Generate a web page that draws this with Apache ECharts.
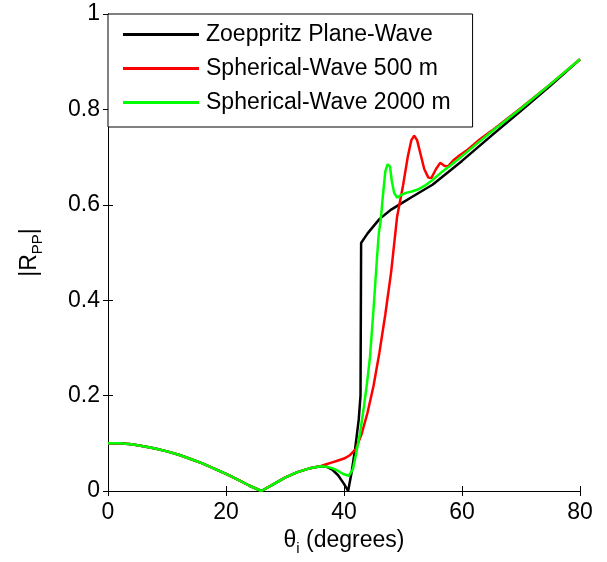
<!DOCTYPE html>
<html>
<head>
<meta charset="utf-8">
<script src="https://cdn.jsdelivr.net/npm/echarts@6/dist/echarts.min.js"></script>
<style>
html, body { margin: 0; padding: 0; background: #fff; }
#chart { width: 607px; height: 562px; }
</style>
</head>
<body>
<div id="chart"></div>
<script>
// 各曲线数据 (入射角 / |Rpp|)
var xCommon = [0, 2, 4, 6, 8, 10, 12, 14, 16, 18, 20, 22, 24, 26, 28, 30, 32, 34, 36];
var yCommon = [0.100, 0.100, 0.098, 0.094, 0.089, 0.083, 0.076, 0.067, 0.058, 0.047, 0.036, 0.024, 0.011, 0.000, 0.014, 0.028, 0.039, 0.047, 0.052];

var xBlack = [37, 38, 39, 40, 40.7, 41.3, 41.9, 42.5, 42.8, 42.9, 44, 46, 48, 50, 52, 55, 60, 65, 70, 75, 80];
var yBlack = [0.051, 0.045, 0.033, 0.015, 0.000, 0.040, 0.090, 0.150, 0.200, 0.520, 0.540, 0.570, 0.590, 0.605, 0.620, 0.642, 0.692, 0.745, 0.797, 0.850, 0.905];

var xRed = [37, 38, 39, 40, 41, 42, 43, 44, 45, 46, 47, 48, 49, 50, 50.8, 51.4, 51.9, 52.4, 53, 53.6, 54.3, 54.8, 55.6, 56.3, 57, 57.6, 58.5, 59.5, 61, 63, 65, 70, 75, 80];
var yRed = [0.056, 0.060, 0.064, 0.068, 0.075, 0.088, 0.120, 0.165, 0.220, 0.290, 0.370, 0.460, 0.575, 0.640, 0.700, 0.735, 0.745, 0.735, 0.705, 0.675, 0.657, 0.656, 0.675, 0.688, 0.682, 0.680, 0.693, 0.703, 0.716, 0.737, 0.755, 0.803, 0.853, 0.905];

var xGreen = [37, 38, 39, 40, 40.8, 41.5, 42, 42.7, 43.3, 43.9, 44.4, 44.7, 45, 45.3, 45.6, 45.9, 46.2, 46.6, 47.0, 47.4, 47.8, 48.1, 48.5, 49, 49.6, 50.5, 51.5, 52.5, 53.7, 55, 56.5, 58, 60, 63, 65, 70, 75, 80];
var yGreen = [0.051, 0.048, 0.042, 0.035, 0.032, 0.045, 0.075, 0.120, 0.170, 0.226, 0.280, 0.330, 0.380, 0.435, 0.490, 0.540, 0.565, 0.620, 0.670, 0.685, 0.680, 0.650, 0.625, 0.615, 0.620, 0.625, 0.628, 0.632, 0.640, 0.652, 0.668, 0.682, 0.702, 0.733, 0.753, 0.802, 0.853, 0.905];

var seriesNames = ['Zoeppritz Plane-Wave', 'Spherical-Wave 500 m', 'Spherical-Wave 2000 m'];
var seriesColors = ['#000000', '#ff0000', '#00ff00'];

function toPairs(xs, ys) {
	var out = [];
	for (var i = 0; i < xCommon.length; i++) {
		out.push([xCommon[i], yCommon[i]]);
	}
	for (var j = 0; j < xs.length; j++) {
		out.push([xs[j], ys[j]]);
	}
	return out;
}

var fontName = 'Liberation Sans';
var fs = 23;
var chart = echarts.init(document.getElementById('chart'));

var option = {
	backgroundColor: '#fff',
	animation: false,
	color: seriesColors,
	textStyle: { fontFamily: fontName },
	grid: { left: 108, right: 27, top: 14, bottom: 71 },
	legend: {
		orient: 'vertical',
		left: 108,
		top: 14,
		data: seriesNames,
		icon: 'rect',
		itemWidth: 76,
		itemHeight: 3,
		itemGap: 11,
		padding: [9, 22, 13, 15],
		backgroundColor: '#fff',
		borderColor: '#000',
		borderWidth: 1,
		borderRadius: 0,
		textStyle: { fontSize: fs, color: '#000', fontFamily: fontName, padding: [0, 0, 0, 2] }
	},
	xAxis: [{
		type: 'value', min: 0, max: 80, interval: 20,
		name: 'θ{sub|i} (degrees)',
		nameLocation: 'middle',
		nameGap: 30,
		nameTextStyle: {
			fontSize: fs, color: '#000',
			rich: { sub: { fontSize: 15, padding: [16, 0, 0, 0], color: '#000' } }
		},
		axisLine: { lineStyle: { color: '#000', width: 1 } },
		axisTick: { inside: true, length: 5, lineStyle: { color: '#000' } },
		axisLabel: { fontSize: fs, color: '#000', margin: 10 },
		splitLine: { show: false }
	}, {
		type: 'value', min: 0, max: 80, interval: 20, position: 'top',
		axisLine: { lineStyle: { color: '#000', width: 1 } },
		axisTick: { inside: true, length: 5, lineStyle: { color: '#000' } },
		axisLabel: { show: false },
		splitLine: { show: false }
	}],
	yAxis: [{
		type: 'value', min: 0, max: 1, interval: 0.2,
		name: '|R{sub|PP}|',
		nameLocation: 'middle',
		nameGap: 63,
		nameRotate: 90,
		nameTextStyle: {
			fontSize: fs, color: '#000',
			rich: { sub: { fontSize: 15, padding: [16, 0, 0, 0], color: '#000' } }
		},
		axisLine: { show: true, lineStyle: { color: '#000', width: 1 } },
		axisTick: { show: true, inside: true, length: 5, lineStyle: { color: '#000' } },
		axisLabel: {
			fontSize: fs, color: '#000', margin: 8,
			formatter: function (v) { return String(Math.round(v * 10) / 10); }
		},
		splitLine: { show: false }
	}, {
		type: 'value', min: 0, max: 1, interval: 0.2, position: 'right',
		axisLine: { show: true, lineStyle: { color: '#000', width: 1 } },
		axisTick: { show: true, inside: true, length: 5, lineStyle: { color: '#000' } },
		axisLabel: { show: false },
		splitLine: { show: false }
	}],
	series: [{
		name: seriesNames[0], type: 'line', showSymbol: false, z: 2,
		lineStyle: { width: 2.5, color: seriesColors[0] },
		data: toPairs(xBlack, yBlack)
	}, {
		name: seriesNames[1], type: 'line', showSymbol: false, z: 3,
		lineStyle: { width: 2.5, color: seriesColors[1] },
		data: toPairs(xRed, yRed)
	}, {
		name: seriesNames[2], type: 'line', showSymbol: false, z: 4,
		lineStyle: { width: 2.5, color: seriesColors[2] },
		data: toPairs(xGreen, yGreen)
	}]
};
chart.setOption(option);
</script>
</body>
</html>
